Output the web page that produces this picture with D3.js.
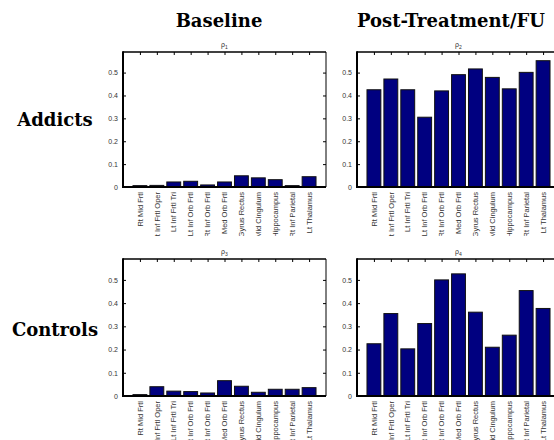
<!DOCTYPE html>
<html>
<head>
<meta charset="utf-8">
<script src="https://cdn.jsdelivr.net/npm/d3@7"></script>
<style>
  body { margin: 0; background: #fff; }
  svg { display: block; }
</style>
</head>
<body>
<div id="chart"></div>
<script>
// brain regions on the x axis (same for every panel)
const regions = ["Rt Mid Frtl", "Lt Inf Frtl Oper", "Lt Inf Frtl Tri", "Lt Inf Orb Frtl",
  "Rt Inf Orb Frtl", "Med Orb Frtl", "Gyrus Rectus", "Mid Cingulum", "Hippocampus",
  "Rt Inf Parietal", "Lt Thalamus"]

// rho values
const rho1 = [0.006, 0.007, 0.022, 0.025, 0.009, 0.022, 0.049, 0.040, 0.032, 0.006, 0.045]
const rho2 = [0.425, 0.472, 0.425, 0.305, 0.420, 0.491, 0.516, 0.479, 0.429, 0.501, 0.552]
const rho3 = [0.006, 0.040, 0.021, 0.019, 0.013, 0.066, 0.042, 0.016, 0.029, 0.029, 0.036]
const rho4 = [0.225, 0.355, 0.203, 0.312, 0.500, 0.526, 0.361, 0.210, 0.262, 0.454, 0.377]

const yTicks = [0, 0.1, 0.2, 0.3, 0.4, 0.5]
const colTitles = ["Baseline", "Post-Treatment/FU"]
const rowTitles = ["Addicts", "Controls"]

function main(){
  const width = 554
  const height = 440

  const svg = d3.select("#chart")
    .append("svg")
    .attr("width", width)
    .attr("height", height)

  const colX = [123, 357]      // left edge of each column of plots
  const plotW = 203
  const rows = [
    {top: 52, bottom: 187, clipBottom: 236},
    {top: 259, bottom: 396, clipBottom: 440}
  ]
  const panels = [
    {data: rho1, sub: "1", col: 0, row: 0},
    {data: rho2, sub: "2", col: 1, row: 0},
    {data: rho3, sub: "3", col: 0, row: 1},
    {data: rho4, sub: "4", col: 1, row: 1}
  ]

  const defs = svg.append("defs")

  // column headings
  svg.selectAll(".coltitle")
    .data(colTitles)
    .join("text")
    .attr("class", "coltitle")
    .attr("x", (d, i) => i == 0 ? 219 : 451)
    .attr("y", 27)
    .attr("text-anchor", "middle")
    .style("font-family", "'DejaVu Serif', serif")
    .style("font-weight", "bold")
    .style("font-size", "18px")
    .text(d => d)

  // row headings
  svg.selectAll(".rowtitle")
    .data(rowTitles)
    .join("text")
    .attr("class", "rowtitle")
    .attr("x", 55)
    .attr("y", (d, i) => i == 0 ? 126 : 336)
    .attr("text-anchor", "middle")
    .style("font-family", "'DejaVu Serif', serif")
    .style("font-weight", "bold")
    .style("font-size", "18px")
    .text(d => d)

  panels.forEach(function(p, k){
    const r = rows[p.row]
    const x0 = colX[p.col]

    const x = d3.scaleLinear().domain([0, 12]).range([x0, x0 + plotW])
    const y = d3.scaleLinear().domain([0, 0.59]).range([r.bottom, r.top])

    const g = svg.append("g")

    // bars
    const bw = x(0.82) - x(0)
    g.selectAll("rect")
      .data(p.data)
      .join("rect")
      .attr("x", (d, i) => x(i + 1) - bw / 2)
      .attr("y", d => y(d))
      .attr("width", bw)
      .attr("height", d => y(0) - y(d))
      .attr("fill", "#000080")
      .attr("stroke", "#111")
      .attr("stroke-width", 1)

    // y axis on the left, ticks pointing in
    const yAxis = g.append("g")
      .attr("transform", "translate(" + x0 + ",0)")
      .call(d3.axisRight(y).tickValues(yTicks).tickSize(3).tickFormat(d => d == 0 ? "0" : d3.format(".1f")(d)))
    yAxis.select(".domain").remove()
    yAxis.selectAll("text")
      .attr("x", -5)
      .attr("text-anchor", "end")
      .style("font-family", "'Liberation Sans', Arial, sans-serif")
      .style("font-size", "7px")
      .attr("fill", "#333")

    // mirrored ticks on the right
    const yRight = g.append("g")
      .attr("transform", "translate(" + (x0 + plotW) + ",0)")
      .call(d3.axisLeft(y).tickValues(yTicks).tickSize(3).tickFormat(""))
    yRight.select(".domain").remove()

    // ticks along the top
    const xTop = g.append("g")
      .attr("transform", "translate(0," + r.top + ")")
      .call(d3.axisBottom(x).tickValues(d3.range(1, 12)).tickSize(3).tickFormat(""))
    xTop.select(".domain").remove()

    // frame
    g.append("line").attr("x1", x0).attr("x2", x0 + plotW).attr("y1", r.top).attr("y2", r.top)
      .attr("stroke", "#000").attr("stroke-width", 1.5)
    g.append("line").attr("x1", x0 + plotW).attr("x2", x0 + plotW).attr("y1", r.top).attr("y2", r.bottom)
      .attr("stroke", "#000").attr("stroke-width", 1)
    g.append("line").attr("x1", x0).attr("x2", x0).attr("y1", r.top - 0.75).attr("y2", r.bottom + 1)
      .attr("stroke", "#000").attr("stroke-width", 2)
    g.append("line").attr("x1", x0).attr("x2", x0 + plotW).attr("y1", r.bottom).attr("y2", r.bottom)
      .attr("stroke", "#000").attr("stroke-width", 2)

    // panel title rho_n
    const t = g.append("text")
      .attr("x", x(6))
      .attr("y", r.top - 5)
      .attr("text-anchor", "middle")
      .attr("fill", "#333")
      .style("font-family", "'Liberation Sans', Arial, sans-serif")
      .style("font-size", "7px")
    t.append("tspan").text("\u03c1")
    t.append("tspan").attr("dy", 2).style("font-size", "5px").text(p.sub)

    // rotated region labels, clipped below like in the source figure
    const clipId = "clip" + k
    defs.append("clipPath").attr("id", clipId)
      .append("rect")
      .attr("x", x0 - 5).attr("y", r.bottom)
      .attr("width", plotW + 10).attr("height", r.clipBottom - r.bottom)
    g.append("g")
      .attr("clip-path", "url(#" + clipId + ")")
      .selectAll("text")
      .data(regions)
      .join("text")
      .attr("transform", (d, i) => "translate(" + (x(i + 1) + 2.7) + "," + (r.bottom + 5) + ") rotate(-90)")
      .attr("text-anchor", "end")
      .attr("fill", "#333")
      .style("font-family", "'Liberation Sans', Arial, sans-serif")
      .style("font-size", "7.5px")
      .text(d => d)

    g.selectAll(".tick line").attr("stroke", "#000")
  })
}
main();
</script>
</body>
</html>
